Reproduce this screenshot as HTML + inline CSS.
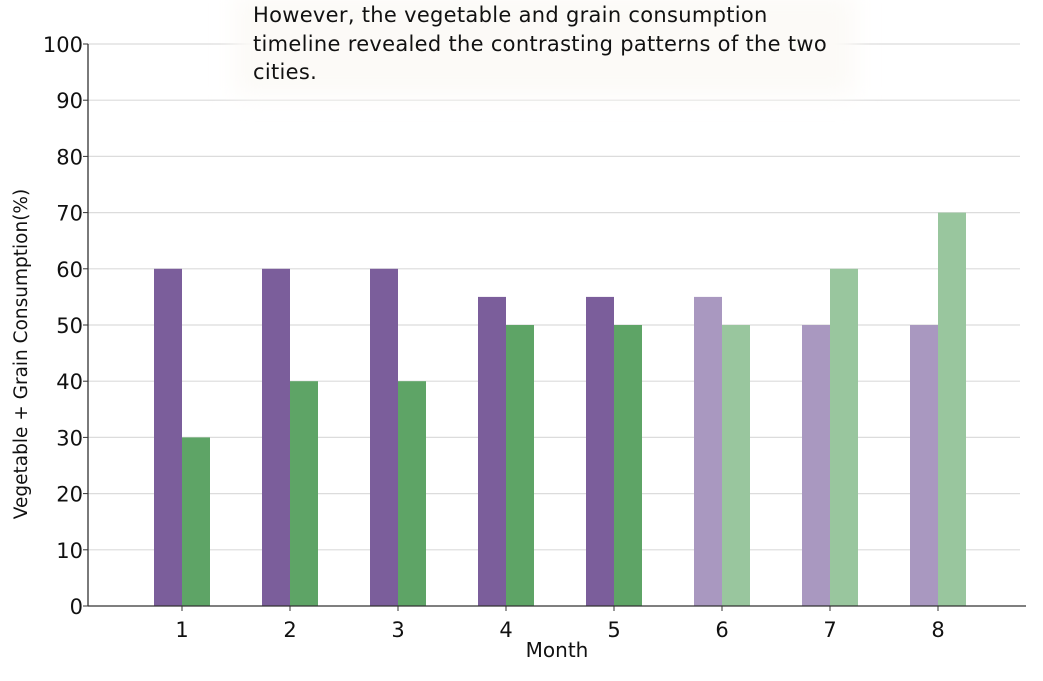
<!DOCTYPE html>
<html><head><meta charset="utf-8"><style>
body{margin:0;background:#fff;font-family:"DejaVu Sans","Liberation Sans",sans-serif;}
</style></head><body>
<svg width="1043" height="677" xmlns="http://www.w3.org/2000/svg">
<g id="grid"></g>
<g id="bars"></g>
<g id="axes"></g>
<text x="557" y="657" font-size="20" text-anchor="middle" fill="#111">Month</text>
<text transform="translate(27,354) rotate(-90)" font-size="18.5" text-anchor="middle" fill="#111">Vegetable + Grain Consumption(%)</text>
<defs><filter id="blur" x="-20%" y="-50%" width="140%" height="200%"><feGaussianBlur stdDeviation="12"/></filter></defs>
<rect x="235" y="-5" width="620" height="100" fill="#fcfaf7" filter="url(#blur)"/>
<g font-size="21" fill="#111" letter-spacing="0.3">
<text x="253" y="22">However, the vegetable and grain consumption</text>
<text x="253" y="51">timeline revealed the contrasting patterns of the two</text>
<text x="253" y="79">cities.</text>
</g>
</svg>
<script>
const months=["1","2","3","4","5","6","7","8"];
const cityA=[60,60,60,55,55,55,50,50];
const cityB=[30,40,40,50,50,50,60,70];
const faded=[false,false,false,false,false,true,true,true];
const yTicks=[0,10,20,30,40,50,60,70,80,90,100];
const NS="http://www.w3.org/2000/svg";
const y0=606,y1=44,x0=88,x1=1026;
const ys=v=>y0+(y1-y0)*v/100;
const xs=i=>182+108*i;
const bw=28;
function mk(t,a,p){const e=document.createElementNS(NS,t);for(const k in a)e.setAttribute(k,a[k]);p.appendChild(e);return e;}
const grid=document.getElementById('grid'),bars=document.getElementById('bars'),axes=document.getElementById('axes');
yTicks.forEach(v=>{
 if(v>0){const l=mk('line',{x1:x0,x2:1020,y1:ys(v),y2:ys(v),stroke:'#dcdcdc','stroke-width':1.2},grid);
 
 }
 const t=mk('line',{x1:x0-5,x2:x0,y1:ys(v),y2:ys(v),stroke:'#333'},axes);
 
 
 const tx=mk('text',{x:x0-5,y:ys(v)+8,'font-size':21,'text-anchor':'end',fill:'#111'},axes);
 tx.textContent=v;
 
 
});
months.forEach((m,i)=>{
 const ca=faded[i]?'#a998c0':'#7b5e9b', cb=faded[i]?'#99c69e':'#5ea466';
 const a=mk('rect',{x:xs(i)-bw,y:ys(cityA[i]),width:bw,height:y0-ys(cityA[i]),fill:ca},bars);
 
 
 const b=mk('rect',{x:xs(i),y:ys(cityB[i]),width:bw,height:y0-ys(cityB[i]),fill:cb},bars);
 
 
 const t=mk('line',{x1:xs(i),x2:xs(i),y1:y0,y2:y0+5,stroke:'#333'},axes);
 
 
 const tx=mk('text',{x:xs(i),y:y0+31,'font-size':21,'text-anchor':'middle',fill:'#111'},axes);
 tx.textContent=m;
 
 
});
const xa=mk('line',{x1:x0,x2:x1,y1:y0,y2:y0,stroke:'#333','stroke-width':1.3},axes);


const ya=mk('line',{x1:x0,x2:x0,y1:y1,y2:y0,stroke:'#333','stroke-width':1.3},axes);


</script>
</body></html>
